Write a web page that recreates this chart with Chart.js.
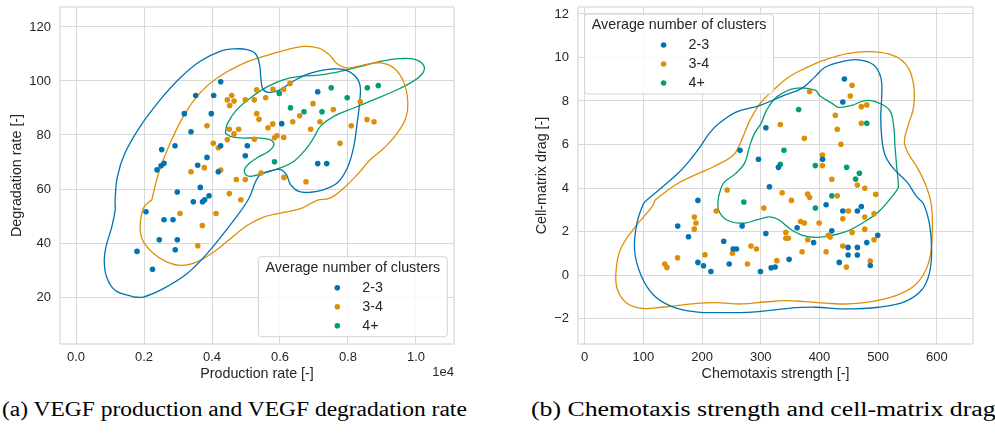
<!DOCTYPE html>
<html>
<head>
<meta charset="utf-8">
<script src="https://cdn.jsdelivr.net/npm/chart.js@4.4.1/dist/chart.umd.min.js"></script>
<style>
  body { margin: 0; background: #fff; width: 995px; height: 433px; overflow: hidden; position: relative; }
  canvas { position: absolute; top: 0; }
  #ca { left: 0; }
  #cb { left: 495px; }
  .cap { position: absolute; top: 399px; font-family: 'Liberation Serif', 'Times New Roman', serif;
         font-size: 20px; line-height: 1; white-space: nowrap; color: #000; transform-origin: 0 0; }
</style>
</head>
<body>
<canvas id="ca" width="490" height="385"></canvas>
<canvas id="cb" width="500" height="385"></canvas>
<div class="cap" id="capa" data-w="465">(a) VEGF production and VEGF degradation rate</div>
<div class="cap" id="capb" data-w="464">(b) Chemotaxis strength and cell-matrix drag</div>
<script>
var clusterLabels = ["2-3", "3-4", "4+"];

// tick positions
var prodTicks = [0, 2000, 4000, 6000, 8000, 10000];
var degTicks = [20, 40, 60, 80, 100, 120];
var chemoTicks = [0, 100, 200, 300, 400, 500, 600];
var dragTicks = [-2, 0, 2, 4, 6, 8, 10, 12];

// (a) production rate vs degradation rate, [x, y]
var prodDeg23 = [[4256,99.7],[3521,94.6],[4050,94.6],[3185,87.9],[3979,87.9],[3382,81.2],[4256,76.0],[2912,76.0],
  [2521,74.6],[5038,76.0],[3853,71.7],[4979,72.3],[3579,68.8],[2588,69.5],[2500,68.6],[2382,67.1],[4185,66.4],
  [6050,84.2],[7109,96.0],[7109,69.4],[7374,69.4],[3656,60.6],[2979,58.9],[3450,55.3],[3721,55.3],[3785,56.0],
  [3912,57.5],[2059,51.6],[2588,48.6],[2853,48.6],[2450,41.2],[2979,41.2],[1794,36.9],[2918,37.5],[2250,30.3]];
var prodDeg34 = [[5315,96.7],[5794,96.9],[6109,96.9],[6294,99.1],[4450,93.0],[4579,94.6],[4647,92.6],[4521,90.9],
  [4979,93.0],[5244,93.0],[5579,93.8],[5315,87.9],[5382,85.8],[3853,83.4],[4509,82.1],[4647,80.4],[4785,82.1],
  [5647,82.7],[5785,84.1],[4038,76.9],[4185,75.3],[4450,78.3],[5838,79.0],[5912,79.7],[6109,79.1],[5244,78.4],
  [3774,67.9],[4256,67.0],[3382,66.4],[5441,65.9],[6971,91.6],[7568,89.4],[6579,87.1],[6374,84.9],[7176,84.9],
  [6903,82.1],[8362,92.3],[8559,85.7],[8765,84.9],[8097,83.4],[7765,76.9],[4715,63.5],[4979,63.5],[6118,64.3],
  [6765,62.7],[4509,58.3],[4847,56.0],[3059,50.9],[4118,50.9],[3715,46.5],[3582,39.0]];
var prodDeg4p = [[5979,95.4],[6309,90.1],[6706,88.6],[7235,88.6],[7506,97.5],[7976,93.8],[8568,97.5],[8891,98.3],[5838,70.1]];

// (a) density contour lines
var prodDegLevel23 = [[1690,20.0],[1980,20.0],[2570,23.1],[3260,28.6],[3850,36.0],[4640,48.4],[5080,56.4],[5370,64.7],
  [5670,66.5],[6010,67.2],[6190,65.3],[6310,61.6],[6550,59.1],[6900,58.8],[7290,59.8],[7680,62.2],[7980,67.8],
  [8170,75.8],[8270,84.4],[8350,93.1],[8350,98.6],[8170,102.3],[7880,104.2],[7490,104.4],[7090,103.6],[6700,102.0],
  [6310,99.3],[5960,96.5],[5670,95.8],[5500,97.0],[5440,100.5],[5400,106.0],[5280,110.1],[5030,111.6],[4690,111.9],
  [4240,111.0],[3650,107.3],[3060,101.1],[2480,93.1],[1890,83.2],[1440,73.3],[1220,64.7],[1150,56.0],[1150,52.1],
  [1050,45.9],[880,38.5],[830,33.6],[900,27.4],[1150,22.5],[1690,20.0]];
var prodDegLevel34 = [[2230,56.0],[2430,65.9],[2770,77.0],[3210,88.1],[3650,95.6],[4150,101.1],[4830,106.0],[5520,109.1],
  [6210,111.6],[6700,112.8],[7140,112.2],[7440,109.8],[7680,106.4],[7980,104.8],[8470,106.0],[8960,106.7],[9350,104.8],
  [9650,99.3],[9760,91.9],[9700,86.3],[9450,80.7],[9060,75.2],[8660,70.9],[8270,65.3],[7880,60.4],[7490,56.7],
  [7090,55.8],[6600,52.7],[6010,51.1],[5520,49.6],[5030,46.5],[4540,41.6],[4050,36.7],[3560,33.0],[3110,31.7],
  [2670,33.0],[2230,36.7],[1940,41.6],[1890,47.2],[2000,53.3],[2230,56.0]];
var prodDegLevel4p = [[4390,80.7],[4460,84.4],[4730,89.4],[5130,93.7],[5620,97.8],[6110,100.5],[6600,101.7],[7190,102.3],
  [7780,103.6],[8370,105.4],[8960,107.3],[9550,108.3],[9990,107.9],[10240,105.4],[10160,102.3],[9840,99.3],[9350,96.2],
  [8760,93.1],[8170,90.0],[7580,86.9],[7190,83.2],[6990,78.9],[6750,74.6],[6400,70.2],[6010,67.8],[5520,65.9],
  [5130,64.7],[4960,65.9],[5010,68.4],[5320,71.5],[5670,74.0],[5820,76.4],[5700,78.3],[5320,78.9],[4830,78.9],
  [4540,79.5],[4390,80.7]];

// (b) chemotaxis strength vs cell-matrix drag
var chemoDrag23 = [[442.4,9.01],[439.7,7.95],[308.7,6.77],[264.6,5.73],[296.1,5.32],[405.3,5.32],[330.1,4.95],[314.8,4.06],
  [193.0,3.43],[411.3,3.23],[439.7,2.94],[464.5,2.94],[471.3,3.15],[158.6,2.25],[361.9,2.17],[268.3,2.25],[308.7,1.91],
  [421.0,2.03],[177.0,1.76],[499.2,1.83],[236.9,1.55],[390.0,1.49],[480.5,1.49],[253.0,1.20],[258.6,1.20],[448.7,1.27],
  [464.5,1.27],[448.7,0.92],[464.5,0.92],[193.0,0.58],[202.5,0.43],[215.1,0.16],[246.2,0.51],[299.5,0.16],[317.7,0.33],
  [324.5,0.37],[348.3,0.72],[433.7,0.58],[486.5,0.44]];
var chemoDrag34 = [[455.5,8.72],[452.4,8.23],[383.2,8.44],[471.2,7.74],[480.5,7.82],[426.9,7.34],[471.2,6.98],[333.3,6.92],
  [430.3,6.70],[374.2,6.29],[436.5,6.01],[405.0,5.52],[405.0,5.03],[421.0,4.40],[464.5,4.14],[477.1,3.99],[336.4,3.78],
  [379.8,3.72],[383.2,3.57],[352.2,3.43],[430.3,3.64],[495.8,3.71],[242.8,3.91],[449.2,2.94],[439.7,2.59],[477.1,2.67],
  [492.9,2.82],[305.3,3.08],[224.1,2.94],[367.9,2.46],[374.2,2.39],[399.4,2.39],[187.0,2.67],[189.7,2.39],[186.8,2.11],
  [342.7,1.96],[342.7,1.69],[347.1,1.69],[415.2,1.83],[418.1,1.75],[380.1,1.62],[455.5,1.96],[477.1,2.11],[492.9,1.62],
  [439.7,1.33],[283.3,1.33],[292.7,1.20],[205.0,0.93],[251.8,1.00],[370.4,1.07],[411.3,1.07],[158.4,0.79],[136.5,0.51],
  [140.2,0.35],[277.4,0.51],[327.4,0.66],[486.5,0.64],[445.8,0.37]];
var chemoDrag4p = [[364.5,7.61],[480.5,6.98],[339.5,5.73],[333.3,5.09],[392.9,5.03],[446.2,4.95],[467.9,4.68],[461.5,4.41],
  [421.0,3.64],[393.1,3.08],[271.2,3.36]];

// (b) density contour lines
var chemoDragLevel23 = [[106.1,3.45],[135,4.1],[160,4.7],[180,5.3],[197,5.9],[212,6.5],[228,6.95],[259,7.5],[299,7.8],
  [341.5,8.28],[369.9,8.58],[392.5,9.12],[409.5,9.55],[437.9,9.81],[466.2,9.89],[491.8,9.66],[504.8,9.04],[505.9,8.20],
  [504.3,7.28],[505.9,6.36],[511.6,5.52],[525.8,4.90],[548.5,4.29],[565.5,3.60],[576.9,3.28],[587.1,2.37],[591.0,1.15],
  [587.1,0.08],[574.0,-0.69],[545.6,-1.22],[500.3,-1.48],[443.6,-1.56],[392.5,-1.48],[347.1,-1.53],[290.4,-1.69],
  [233.7,-1.73],[188.3,-1.69],[148.6,-1.45],[117.4,-0.92],[95.9,0.0],[85.1,1.15],[89.1,2.37],[100.4,3.28],[106.1,3.45]];
var chemoDragLevel34 = [[120.2,3.45],[154.3,4.14],[188.3,4.60],[222.3,5.01],[253.5,5.52],[264.9,6.05],[281.9,7.13],
  [298.9,7.89],[318.8,8.43],[347.1,9.09],[375.5,9.50],[409.5,9.89],[449.2,10.19],[483.3,10.27],[517.3,10.16],[545.7,9.73],
  [559.8,8.81],[560.4,7.74],[551.3,6.90],[544.5,6.13],[551.3,5.59],[567.2,4.90],[580.8,4.14],[590.0,3.30],[592.2,2.21],
  [589.3,0.99],[579.7,0.15],[559.8,-0.53],[528.6,-0.96],[488.9,-1.22],[449.2,-1.33],[409.5,-1.29],[375.5,-1.22],
  [341.5,-1.18],[307.4,-1.24],[267.7,-1.33],[222.3,-1.27],[182.6,-1.33],[131.6,-1.48],[97.6,-1.53],[72,-1.30],
  [56.2,-0.69],[53.3,0.08],[60.7,1.15],[86.2,2.21],[114.6,3.13],[120.2,3.45]];
var chemoDragLevel4p = [[228,3.6],[236.5,4.22],[256.4,4.65],[272.3,5.13],[280.8,5.90],[289.3,6.51],[300.6,6.97],[310.3,7.59],
  [328,8.2],[358.5,8.58],[392.5,8.5],[401.0,8.23],[421,7.9],[432.2,7.71],[455,7.8],[477.6,8.02],[494.6,7.97],[519.0,7.59],
  [526.4,6.82],[528.6,5.90],[531.5,4.98],[534.3,4.06],[531.5,3.89],[523.0,3.59],[500.3,2.90],[471.9,2.37],[443.6,1.98],
  [415.2,1.79],[392.5,1.73],[369.8,1.83],[347.1,2.18],[330.1,2.55],[314.2,2.67],[293.3,2.53],[270.6,2.38],[242.3,2.53],
  [228,3.0],[228,3.6]];

var palette = ["#0173b2", "#de8f05", "#029e73"];
var inkColor = "#262626";
var gridColor = "#d9d9d9";
var sansFamily = "'Liberation Sans', Arial, sans-serif";
Chart.defaults.font.family = sansFamily;
Chart.defaults.color = inkColor;

function toXY(pts) {
  return pts.map(function (p) { return { x: p[0], y: p[1] }; });
}

function dots(label, pts, color) {
  return { label: label, data: toXY(pts), backgroundColor: color, borderColor: color,
    pointRadius: 2.8, pointHoverRadius: 2.8, pointBorderWidth: 0, order: 1 };
}

function level(pts, color) {
  return { label: "", data: toXY(pts), showLine: true, borderColor: color, borderWidth: 1.3,
    pointRadius: 0, tension: 0.4, fill: false, order: 2 };
}

var panelDecor = {
  id: "panelDecor",
  afterDraw: function (chart, args, opts) {
    var ctx = chart.ctx, a = chart.chartArea;
    ctx.save();
    ctx.strokeStyle = gridColor;
    ctx.lineWidth = 1.25;
    ctx.strokeRect(a.left, a.top, a.right - a.left, a.bottom - a.top);

    if (opts.offsetText) {
      ctx.fillStyle = inkColor;
      ctx.font = "13px " + sansFamily;
      ctx.textAlign = "right";
      ctx.textBaseline = "middle";
      ctx.fillText(opts.offsetText, a.right, 372);
    }

    // legend box
    var w = 189, h = 80, bx, by;
    if (opts.legendAt === "lowerRight") { bx = a.right - 6.7 - w; by = a.bottom - 7.3 - h; }
    else { bx = a.left + 6.6; by = a.top + 7; }
    ctx.beginPath();
    ctx.roundRect(bx, by, w, h, 3);
    ctx.fillStyle = "rgba(255,255,255,0.8)";
    ctx.fill();
    ctx.strokeStyle = "#d4d4d4";
    ctx.lineWidth = 1;
    ctx.stroke();
    ctx.fillStyle = inkColor;
    ctx.font = "14.3px " + sansFamily;
    ctx.textAlign = "center";
    ctx.textBaseline = "middle";
    ctx.fillText("Average number of clusters", bx + w / 2, by + 11.5);
    ctx.textAlign = "left";
    clusterLabels.forEach(function (lab, i) {
      var yy = by + 31 + 19 * i;
      ctx.beginPath();
      ctx.arc(bx + 79, yy, 2.8, 0, Math.PI * 2);
      ctx.fillStyle = palette[i];
      ctx.fill();
      ctx.fillStyle = inkColor;
      ctx.fillText(lab, bx + 104, yy + 0.5);
    });
    ctx.restore();
  }
};

function fixedTicks(values) {
  return function (scale) {
    scale.ticks = values.map(function (v) { return { value: v }; });
  };
}

function axes(o) {
  var tickFont = { size: 13 };
  var titleFont = { size: 14.3 };
  return {
    x: {
      type: "linear", min: o.xMin, max: o.xMax,
      grid: { color: gridColor, lineWidth: 1, drawTicks: false },
      border: { display: false },
      afterBuildTicks: fixedTicks(o.xTicks),
      ticks: { padding: 6, font: tickFont, color: inkColor, maxRotation: 0, autoSkip: false, callback: o.xFmt },
      title: { display: true, text: o.xTitle, font: titleFont, color: inkColor, padding: { top: 0, bottom: 2 } },
      afterFit: function (s) { s.height = 41; s.paddingLeft = 0; s.paddingRight = 0; }
    },
    y: {
      type: "linear", min: o.yMin, max: o.yMax,
      grid: { color: gridColor, lineWidth: 1, drawTicks: false },
      border: { display: false },
      afterBuildTicks: fixedTicks(o.yTicks),
      ticks: { padding: 9, font: tickFont, color: inkColor, autoSkip: false, callback: o.yFmt },
      title: { display: true, text: o.yTitle, font: titleFont, color: inkColor, padding: { top: o.yTitlePad, bottom: 0 } },
      afterFit: function (s) { s.width = o.yWidth; s.paddingTop = 0; s.paddingBottom = 0; }
    }
  };
}

function buildPanel(id, datasets, o, decor) {
  return new Chart(document.getElementById(id), {
    type: "scatter",
    data: { datasets: datasets },
    options: {
      responsive: false, animation: false, events: [],
      layout: { padding: { left: 0, top: 7, right: o.padRight, bottom: 0 } },
      plugins: { legend: { display: false }, tooltip: { enabled: false }, panelDecor: decor },
      scales: axes(o)
    },
    plugins: [panelDecor]
  });
}

function minusFmt(v) {
  return v < 0 ? "\u2212" + Math.abs(v) : String(v);
}

buildPanel("ca", [
  dots(clusterLabels[0], prodDeg23, palette[0]),
  dots(clusterLabels[1], prodDeg34, palette[1]),
  dots(clusterLabels[2], prodDeg4p, palette[2]),
  level(prodDegLevel23, palette[0]),
  level(prodDegLevel34, palette[1]),
  level(prodDegLevel4p, palette[2])
], {
  xMin: -471, xMax: 11118, yMin: 2.6, yMax: 127.4, xTicks: prodTicks, yTicks: degTicks,
  xFmt: function (v) { return (v / 1e4).toFixed(1); }, yFmt: minusFmt,
  xTitle: "Production rate [-]", yTitle: "Degradation rate [-]", yTitlePad: 8, yWidth: 60, padRight: 36
}, { legendAt: "lowerRight", offsetText: "1e4" });

buildPanel("cb", [
  dots(clusterLabels[0], chemoDrag23, palette[0]),
  dots(clusterLabels[1], chemoDrag34, palette[1]),
  dots(clusterLabels[2], chemoDrag4p, palette[2]),
  level(chemoDragLevel23, palette[0]),
  level(chemoDragLevel34, palette[1]),
  level(chemoDragLevel4p, palette[2])
], {
  xMin: -11.2, xMax: 661.4, yMin: -3.17, yMax: 12.32, xTicks: chemoTicks, yTicks: dragTicks,
  xFmt: minusFmt, yFmt: minusFmt,
  xTitle: "Chemotaxis strength [-]", yTitle: "Cell-matrix drag [-]", yTitlePad: 38, yWidth: 83, padRight: 22
}, { legendAt: "upperLeft" });

// stretch captions to the width they take in the figure
["capa", "capb"].forEach(function (id) {
  var el = document.getElementById(id);
  var target = +el.getAttribute("data-w");
  el.style.transform = "scaleX(" + (target / el.offsetWidth) + ")";
});
document.getElementById("capa").style.left = "2px";
document.getElementById("capb").style.left = "531px";
</script>
</body>
</html>
